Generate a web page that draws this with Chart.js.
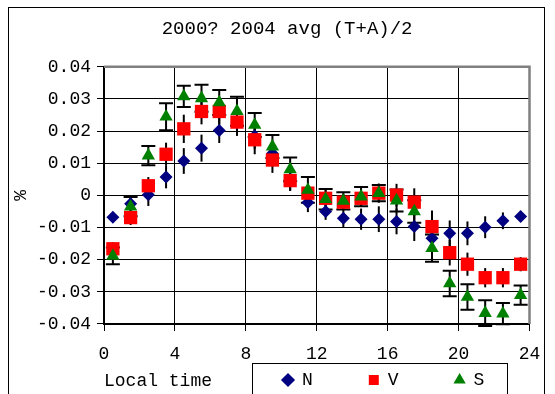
<!DOCTYPE html>
<html><head><meta charset="utf-8">
<script src="https://cdn.jsdelivr.net/npm/chart.js@4/dist/chart.umd.min.js"></script>
<style>html,body{margin:0;padding:0;background:#fff;overflow:hidden}canvas{display:block}</style>
</head><body>
<canvas id="c" width="555" height="394"></canvas>
<script>
// ---- data ----
const chartTitle = '2000? 2004 avg (T+A)/2';
const xTitle = 'Local time';
const yTitle = '%';
const hours = [0.5,1.5,2.5,3.5,4.5,5.5,6.5,7.5,8.5,9.5,10.5,11.5,12.5,13.5,14.5,15.5,16.5,17.5,18.5,19.5,20.5,21.5,22.5,23.5];
const seriesNames = ['N','V','S'];
const valuesN = [-0.0068,-0.0026,0.0002,0.0057,0.0107,0.0147,0.0202,0.0225,0.0185,0.0130,0.0050,-0.0022,-0.0050,-0.0071,-0.0074,-0.0074,-0.0081,-0.0097,-0.0133,-0.0118,-0.0118,-0.0099,-0.0079,-0.0066];
const errorsN = [0.0015,0.002,0.0035,0.0035,0.004,0.0042,0.0039,0.004,0.004,0.004,0.0035,0.003,0.0026,0.003,0.0033,0.004,0.004,0.0045,0.004,0.004,0.0037,0.0034,0.0026,0.0015];
const valuesV = [-0.0166,-0.0069,0.0030,0.0128,0.0207,0.0261,0.0261,0.0228,0.0173,0.0110,0.0046,0.0007,-0.0009,-0.0021,-0.0009,0.0007,0.0001,-0.0021,-0.0097,-0.0178,-0.0214,-0.0256,-0.0256,-0.0214];
const errorsV = [0.002,0.0023,0.0027,0.0036,0.0044,0.004,0.004,0.004,0.0045,0.004,0.0032,0.0025,0.0025,0.0025,0.0025,0.003,0.0035,0.0043,0.005,0.004,0.0036,0.003,0.003,0.0022];
const valuesS = [-0.0188,-0.0035,0.0124,0.0245,0.0308,0.0302,0.0289,0.0262,0.0219,0.0152,0.0081,0.0017,-0.0012,-0.0017,-0.0004,0.0007,-0.0016,-0.0050,-0.0164,-0.0274,-0.0316,-0.0366,-0.0368,-0.0310];
const errorsS = [0.0026,0.003,0.003,0.0042,0.0033,0.0042,0.0039,0.0045,0.0037,0.0036,0.0037,0.004,0.0032,0.0027,0.003,0.0025,0.0034,0.0035,0.0042,0.004,0.004,0.004,0.0033,0.003];
const xTickLabels = ['0','4','8','12','16','20','24'];
const yTickLabels = ['-0.04','-0.03','-0.02','-0.01','0','0.01','0.02','0.03','0.04'];

// ---- styling ----
const FONT = "'Liberation Mono','Courier New',monospace";
Chart.defaults.font.family = FONT;
Chart.defaults.font.size = 18;
Chart.defaults.color = '#000';
const legendBox = {left: 252, right: 507, top: 363, itemCenterY: 380, inner: 31};
const titleShift = 17;

const toPoints = vals => vals.map((v, i) => ({x: hours[i], y: v}));

const decor = {
  id: 'decor',
  beforeDraw(chart) {
    const ctx = chart.ctx;
    ctx.save();
    ctx.fillStyle = '#fff';
    ctx.fillRect(0, 0, chart.width, chart.height);
    ctx.strokeStyle = '#000';
    ctx.lineWidth = 1;
    ctx.strokeRect(8.5, 7.5, 536, 500);
    ctx.restore();
  },
  afterLayout(chart) {
    const t = chart.titleBlock;
    t.left += titleShift; t.right += titleShift;
    const lg = chart.legend;
    const pad = lg.options.labels.padding;
    const half = lg.options.labels.font.size / 2;
    lg.left = legendBox.left + legendBox.inner - pad;
    lg.right = chart.width;
    lg.top = legendBox.itemCenterY - half - pad;
    lg.bottom = chart.height;
    lg.width = lg.right - lg.left;
    lg.height = lg.bottom - lg.top;
  },
  beforeDatasetsDraw(chart) {
    const ctx = chart.ctx, a = chart.chartArea;
    const xs = chart.scales.x, ys = chart.scales.y;
    ctx.save();
    ctx.strokeStyle = '#808080';
    ctx.lineWidth = 2.5;
    ctx.beginPath();
    ctx.moveTo(a.left, a.top); ctx.lineTo(a.right, a.top); ctx.lineTo(a.right, a.bottom);
    ctx.stroke();
    ctx.strokeStyle = '#000';
    ctx.lineWidth = 2;
    chart.data.datasets.forEach(ds => {
      ds.data.forEach((p, i) => {
        const e = ds.errors[i];
        const px = xs.getPixelForValue(p.x);
        const yt = ys.getPixelForValue(p.y + e);
        const yb = ys.getPixelForValue(p.y - e);
        ctx.beginPath();
        ctx.moveTo(px, yt); ctx.lineTo(px, yb);
        if (ds.capHalfWidth > 0) {
          ctx.moveTo(px - ds.capHalfWidth, yt); ctx.lineTo(px + ds.capHalfWidth, yt);
          ctx.moveTo(px - ds.capHalfWidth, yb); ctx.lineTo(px + ds.capHalfWidth, yb);
        }
        ctx.stroke();
      });
    });
    ctx.restore();
  },
  afterDraw(chart) {
    const ctx = chart.ctx;
    ctx.save();
    ctx.strokeStyle = '#000';
    ctx.lineWidth = 1;
    ctx.strokeRect(legendBox.left + 0.5, legendBox.top + 0.5, legendBox.right - legendBox.left, 100);
    ctx.restore();
  }
};

const common = {showLine: false, clip: false, pointBorderWidth: 0, pointHoverRadius: 0};
new Chart(document.getElementById('c'), {
  type: 'scatter',
  data: {
    datasets: [
      Object.assign({label: seriesNames[0], data: toPoints(valuesN), errors: errorsN, capHalfWidth: 0,
        pointStyle: 'rectRot', pointRadius: 6.5, backgroundColor: '#000080', borderColor: '#000080', order: 3}, common),
      Object.assign({label: seriesNames[1], data: toPoints(valuesV), errors: errorsV, capHalfWidth: 0,
        pointStyle: 'rect', pointRadius: 9.4, backgroundColor: '#FF0000', borderColor: '#FF0000', order: 2}, common),
      Object.assign({label: seriesNames[2], data: toPoints(valuesS), errors: errorsS, capHalfWidth: 7,
        pointStyle: 'triangle', pointRadius: 7.7, backgroundColor: '#008000', borderColor: '#008000', order: 1}, common)
    ]
  },
  options: {
    responsive: false,
    animation: false,
    events: [],
    layout: {padding: {top: 8, left: 10.7, right: 25.5, bottom: 0}},
    plugins: {
      title: {display: true, text: chartTitle, color: '#000',
        font: {family: FONT, size: 19, weight: 'normal'}, padding: {top: 10, bottom: 26}},
      legend: {display: true, position: 'bottom', align: 'start', maxHeight: 0.001,
        labels: {usePointStyle: true, boxWidth: 10, boxHeight: 10, padding: 56,
          sort: (a, b) => a.datasetIndex - b.datasetIndex,
          font: {family: FONT, size: 18}, color: '#000'}},
      tooltip: {enabled: false}
    },
    scales: {
      x: {type: 'linear', min: 0, max: 24,
        ticks: {stepSize: 4, autoSkip: false, maxRotation: 0, padding: 12, color: '#000',
          callback: (v, i) => xTickLabels[i]},
        grid: {color: '#000', lineWidth: 1, tickLength: 7, tickColor: '#000'},
        border: {color: '#000', width: 2},
        title: {display: true, text: xTitle, align: 'start', color: '#000',
          font: {family: FONT, size: 18}, padding: {top: -6.4, bottom: 2.2}}},
      y: {type: 'linear', min: -0.04, max: 0.04,
        ticks: {stepSize: 0.01, padding: 6, color: '#000', callback: (v, i) => yTickLabels[i]},
        grid: {color: '#000', lineWidth: 1, tickLength: 7, tickColor: '#000'},
        border: {color: '#000', width: 2},
        title: {display: true, text: yTitle, color: '#000',
          font: {family: FONT, size: 18}, padding: {top: 0, bottom: -1.3}}}
    }
  },
  plugins: [decor]
});
</script>
</body></html>
